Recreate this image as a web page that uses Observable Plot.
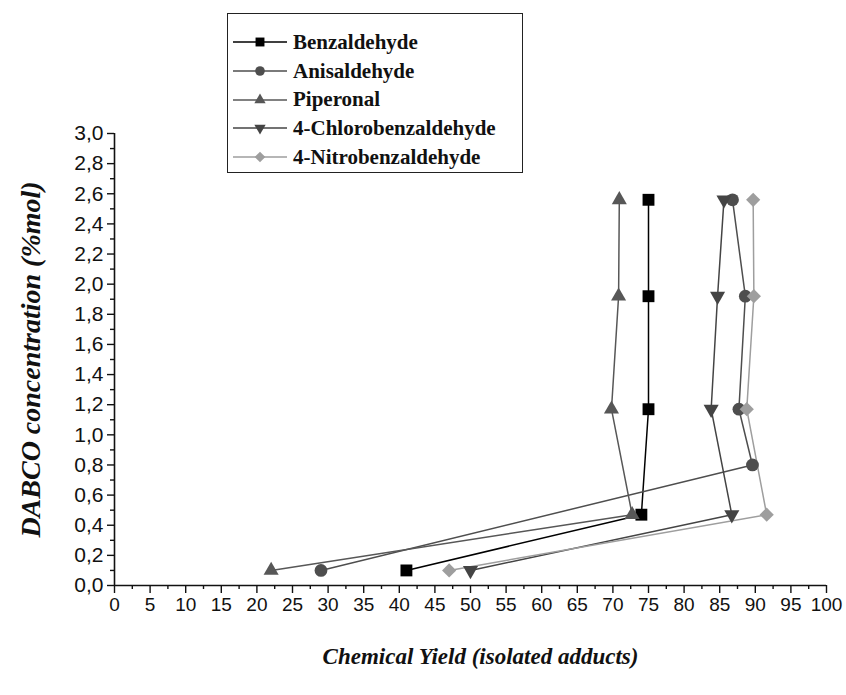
<!DOCTYPE html>
<html>
<head>
<meta charset="utf-8">
<script src="https://cdn.jsdelivr.net/npm/d3@7"></script>
<script src="https://cdn.jsdelivr.net/npm/@observablehq/plot@0.6"></script>
<style>
  html, body { margin: 0; padding: 0; background: #fff; }
  #wrap { position: relative; width: 846px; height: 695px; }
  #legend {
    position: absolute; left: 227px; top: 13px; width: 296px; height: 160px;
    border: 1.5px solid #222; box-sizing: border-box; background: #fff;
    font-family: "Liberation Serif", "Times New Roman", serif; font-weight: bold; font-size: 21px;
    padding-top: 14px; color: #111;
  }
  .row { display: flex; align-items: center; height: 28.7px; }
  .row svg { margin-left: 4px; margin-right: 5px; flex: none; }
</style>
</head>
<body>
<div id="wrap"><div id="legend"></div></div>
<script>
const seriesNames = ["Benzaldehyde", "Anisaldehyde", "Piperonal", "4-Chlorobenzaldehyde", "4-Nitrobenzaldehyde"];
const seriesColors = ["#000000", "#4e4e4e", "#575757", "#444444", "#9e9e9e"];

// DABCO concentration (%mol) read per point, with chemical yields (%)
const benzaldehydeConc = [0.1, 0.47, 1.17, 1.92, 2.56];
const benzaldehydeYield = [41, 74, 75, 75, 75];
const anisaldehydeConc = [0.1, 0.8, 1.17, 1.92, 2.56];
const anisaldehydeYield = [29, 89.6, 87.7, 88.6, 86.8];
const piperonalConc = [0.1, 0.47, 1.17, 1.92, 2.56];
const piperonalYield = [22, 72.7, 69.8, 70.8, 70.9];
const chloroConc = [0.1, 0.47, 1.17, 1.92, 2.56];
const chloroYield = [50, 86.7, 83.8, 84.7, 85.6];
const nitroConc = [0.1, 0.47, 1.17, 1.92, 2.56];
const nitroYield = [47, 91.6, 88.8, 89.8, 89.7];

const xMajorTicks = [0,5,10,15,20,25,30,35,40,45,50,55,60,65,70,75,80,85,90,95,100];
const xMinorTicks = [2.5,7.5,12.5,17.5,22.5,27.5,32.5,37.5,42.5,47.5,52.5,57.5,62.5,67.5,72.5,77.5,82.5,87.5,92.5,97.5];
const yMajorTicks = [0,0.2,0.4,0.6,0.8,1.0,1.2,1.4,1.6,1.8,2.0,2.2,2.4,2.6,2.8,3.0];
const yMinorTicks = [0.1,0.3,0.5,0.7,0.9,1.1,1.3,1.5,1.7,1.9,2.1,2.3,2.5,2.7,2.9];

const xTitle = "Chemical Yield (isolated adducts)";
const yTitle = "DABCO concentration (%mol)";

const concs = [benzaldehydeConc, anisaldehydeConc, piperonalConc, chloroConc, nitroConc];
const yields = [benzaldehydeYield, anisaldehydeYield, piperonalYield, chloroYield, nitroYield];

const data = [];
seriesNames.forEach((s, i) => {
  concs[i].forEach((c, j) => data.push({series: s, conc: c, yield: yields[i][j]}));
});

const triangleDown = {
  draw(context, size) {
    const y = -Math.sqrt(size / (Math.sqrt(3) * 3));
    context.moveTo(0, -y * 2);
    context.lineTo(-Math.sqrt(3) * y, y);
    context.lineTo(Math.sqrt(3) * y, y);
    context.closePath();
  }
};
const symbols = ["square", "circle", "triangle", triangleDown, "diamond2"];
const d3Symbols = [d3.symbolSquare, d3.symbolCircle, d3.symbolTriangle, triangleDown, d3.symbolDiamond2 || d3.symbolSquare2];
const radii = [6.7, 6.4, 5.6, 5.6, 6.4];

const fmt = d => d.toFixed(1).replace(".", ",");
const tickFont = "Liberation Sans, Arial, sans-serif";
const titleFont = "Liberation Serif, Times New Roman, serif";

const marks = [
  Plot.axisX(xMinorTicks, {tickSize: 4, text: null, stroke: "#111", strokeWidth: 1.4}),
  Plot.axisX(xMajorTicks, {tickSize: 8, tickPadding: 4, stroke: "#111", strokeWidth: 1.4,
    fontSize: 19, fontFamily: tickFont, fill: "#111", label: null}),
  Plot.axisY(yMinorTicks, {tickSize: 4, text: null, stroke: "#111", strokeWidth: 1.4}),
  Plot.axisY(yMajorTicks, {tickSize: 7, tickPadding: 4, stroke: "#111", strokeWidth: 1.4, tickFormat: fmt,
    fontSize: 21, fontFamily: tickFont, fill: "#111", label: null}),
  Plot.ruleY([0], {stroke: "#111", strokeWidth: 1.6}),
  Plot.ruleX([0], {stroke: "#111", strokeWidth: 1.6}),
  Plot.text([xTitle], {frameAnchor: "bottom", dx: 10, dy: 78, fontSize: 23, fontWeight: "bold", fontStyle: "italic",
    fontFamily: titleFont, fill: "#111", textAnchor: "middle"}),
  Plot.text([yTitle], {frameAnchor: "left", dx: -83, rotate: -90, fontSize: 28, fontWeight: "bold", fontStyle: "italic",
    fontFamily: titleFont, fill: "#111", textAnchor: "middle"})
];

seriesNames.forEach((s, i) => {
  const d = data.filter(r => r.series === s);
  marks.push(Plot.line(d, {x: "yield", y: "conc", stroke: seriesColors[i], strokeWidth: 1.5}));
});
seriesNames.forEach((s, i) => {
  const d = data.filter(r => r.series === s);
  marks.push(Plot.dot(d, {x: "yield", y: "conc", fill: seriesColors[i], stroke: "none", r: radii[i], symbol: symbols[i]}));
});

const chart = Plot.plot({
  width: 846,
  height: 695,
  marginLeft: 114,
  marginRight: 20,
  marginTop: 133,
  marginBottom: 110,
  x: {domain: [0, 100], label: null},
  y: {domain: [0, 3], label: null},
  marks
});
document.getElementById("wrap").prepend(chart);

// legend
const legend = document.getElementById("legend");
seriesNames.forEach((s, i) => {
  const row = document.createElement("div");
  row.className = "row";
  const svg = d3.create("svg").attr("width", 56).attr("height", 18);
  svg.append("line").attr("x1", 1).attr("x2", 55).attr("y1", 9).attr("y2", 9)
    .attr("stroke", seriesColors[i]).attr("stroke-width", 1.5);
  const size = Math.PI * (radii[i] * 0.75) ** 2;
  svg.append("path").attr("d", d3.symbol(d3Symbols[i], size)()).attr("transform", "translate(28,9)")
    .attr("fill", seriesColors[i]);
  row.appendChild(svg.node());
  const t = document.createElement("span");
  t.textContent = s;
  row.appendChild(t);
  legend.appendChild(row);
});
</script>
</body>
</html>
